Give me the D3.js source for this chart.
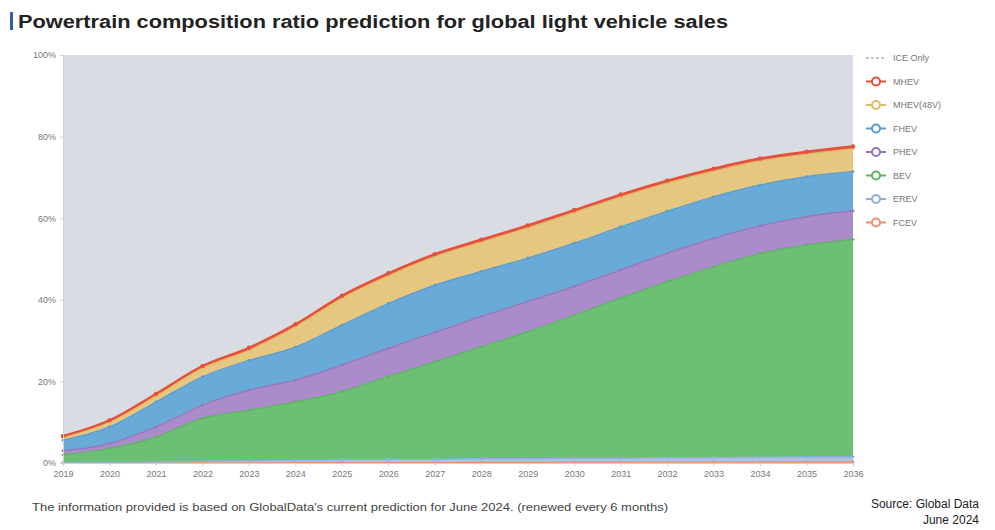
<!DOCTYPE html>
<html><head><meta charset="utf-8">
<script src="https://cdn.jsdelivr.net/npm/d3@7"></script>
<style>
html,body{margin:0;padding:0;background:#fff;}
svg{display:block;font-family:"Liberation Sans",Arial,sans-serif;}
</style></head>
<body>
<svg id="c" width="995" height="530"></svg>
<script>
const years = [2019,2020,2021,2022,2023,2024,2025,2026,2027,2028,2029,2030,2031,2032,2033,2034,2035,2036];
const fcev   = [0.05,0.05,0.05,0.05,0.05,0.1,0.1,0.1,0.1,0.15,0.15,0.2,0.2,0.2,0.25,0.25,0.3,0.3];
const erev   = [0.05,0.1,0.2,0.4,0.5,0.6,0.7,0.8,0.8,0.9,0.9,1.0,1.0,1.1,1.1,1.2,1.2,1.2];
const bev    = [1.9,3.4,6.1,10.5,12.4,14.3,16.7,20.3,23.9,27.4,31.1,35.0,39.2,43.1,46.7,49.9,51.9,53.3];
const phev   = [1.0,1.2,2.5,3.2,4.9,5.3,6.5,6.9,7.2,7.5,7.4,7.1,6.9,7.0,7.0,6.8,7.0,7.0];
const fhev   = [2.6,4.1,6.1,7.0,7.3,8.1,9.8,11.0,11.6,11.0,10.7,10.6,10.6,10.3,10.2,10.0,9.8,9.6];
const mhev48 = [0.7,1.2,1.5,2.1,2.5,5.0,6.6,6.8,7.0,7.2,7.4,7.5,7.3,6.9,6.3,5.9,5.5,5.6];
const mhev   = [0.3,0.4,0.5,0.5,0.6,0.6,0.6,0.6,0.6,0.6,0.6,0.6,0.6,0.6,0.6,0.6,0.6,0.6];
const yTicks = [0,20,40,60,80,100];
const seriesNames = ["FCEV","EREV","BEV","PHEV","FHEV","MHEV(48V)","MHEV","ICE Only"];
const legendOrder = ["ICE Only","MHEV","MHEV(48V)","FHEV","PHEV","BEV","EREV","FCEV"];
const colors = {"ICE Only":"#d9dde3","MHEV":"#e8604c","MHEV(48V)":"#e6c77f","FHEV":"#6aaad8","PHEV":"#a98cc9","BEV":"#6dbf73","EREV":"#a9c2e6","FCEV":"#f1a58a"};
const strokes = {"ICE Only":"#c9ced6","MHEV":"#e4503c","MHEV(48V)":"#e0ba66","FHEV":"#5a9bcf","PHEV":"#9676ba","BEV":"#5cb463","EREV":"#8fb0de","FCEV":"#ee8f70"};

const iceOnly = years.map((y,i)=> +(100 - fcev[i]-erev[i]-bev[i]-phev[i]-fhev[i]-mhev48[i]-mhev[i]).toFixed(2));
const arrays = {"FCEV":fcev,"EREV":erev,"BEV":bev,"PHEV":phev,"FHEV":fhev,"MHEV(48V)":mhev48,"MHEV":mhev,"ICE Only":iceOnly};
const table = years.map((y,i)=>{const o={year:y}; seriesNames.forEach(n=>o[n]=arrays[n][i]); return o;});

const svg = d3.select("#c");
const m = {l:63, r:853, t:55, b:463};
const x = d3.scaleLinear().domain([years[0], years[years.length-1]]).range([m.l, m.r]);
const y = d3.scaleLinear().domain([0,100]).range([m.b, m.t]);

const stack = d3.stack().keys(seriesNames);
const layers = stack(table);

const area = d3.area().x(d=>x(d.data.year)).y0(d=>y(d[0])).y1(d=>y(d[1])).curve(d3.curveMonotoneX);
const line = d3.line().x(d=>x(d.data.year)).y(d=>y(d[1])).curve(d3.curveMonotoneX);

svg.append("g").selectAll("path").data(layers).join("path")
  .attr("d", area).attr("fill", d=>colors[d.key]);

svg.append("g").selectAll("path").data(layers.filter(l=>l.key!=="ICE Only")).join("path")
  .attr("d", line).attr("fill","none").attr("stroke", d=>strokes[d.key])
  .attr("stroke-width", d=>d.key==="MHEV"?2.2:1.2);

layers.filter(l=>l.key!=="ICE Only").forEach(l=>{
  svg.append("g").selectAll("circle").data(l).join("circle")
    .attr("cx", d=>x(d.data.year)).attr("cy", d=>y(d[1]))
    .attr("r", l.key==="MHEV"?2.2:1.4).attr("fill", strokes[l.key]);
});

// axes
const yAxis = svg.append("g").attr("transform",`translate(${m.l},0)`)
  .call(d3.axisLeft(y).tickValues(yTicks).tickFormat(d=>d+"%").tickSize(3));
yAxis.select(".domain").attr("stroke","#d0d0d0");
yAxis.selectAll(".tick line").attr("stroke","#d0d0d0");
yAxis.selectAll("text").attr("fill","#777").attr("font-size",9).attr("x",-7);

const xAxis = svg.append("g").attr("transform",`translate(0,${m.b})`)
  .call(d3.axisBottom(x).tickValues(years).tickFormat(d3.format("d")).tickSize(3));
xAxis.select(".domain").attr("stroke","#d0d0d0");
xAxis.selectAll(".tick line").attr("stroke","#d0d0d0");
xAxis.selectAll("text").attr("fill","#777").attr("font-size",9).attr("dy","0.9em");

// legend
const lg = svg.append("g").attr("transform","translate(866,58)");
legendOrder.forEach((n,i)=>{
  const g = lg.append("g").attr("transform",`translate(0,${i*23.5})`);
  const c = n==="ICE Only" ? "#c3c8d0" : strokes[n];
  g.append("line").attr("x1",0).attr("x2",20).attr("y1",0).attr("y2",0).attr("stroke",c).attr("stroke-width",2)
    .attr("stroke-dasharray", n==="ICE Only"?"3,2":null);
  if(n!=="ICE Only") g.append("circle").attr("cx",10).attr("cy",0).attr("r",4).attr("fill","#fff").attr("stroke",c).attr("stroke-width",2);
  g.append("text").attr("x",27).attr("y",3).attr("font-size",9).attr("fill","#777").text(n);
});

// title
svg.append("rect").attr("x",10).attr("y",12).attr("width",3).attr("height",18).attr("fill","#2f5fa8");
svg.append("text").attr("x",18).attr("y",28).attr("font-size",18).attr("font-weight","bold").attr("fill","#222")
  .attr("textLength",710).attr("lengthAdjust","spacingAndGlyphs")
  .text("Powertrain composition ratio prediction for global light vehicle sales");

// footer
svg.append("text").attr("x",32).attr("y",511).attr("font-size",11).attr("fill","#444")
  .attr("textLength",636).attr("lengthAdjust","spacingAndGlyphs")
  .text("The information provided is based on GlobalData's current prediction for June 2024. (renewed every 6 months)");
svg.append("text").attr("x",979).attr("y",508).attr("font-size",12).attr("fill","#222").attr("text-anchor","end")
  .text("Source: Global Data");
svg.append("text").attr("x",979).attr("y",524).attr("font-size",12).attr("fill","#222").attr("text-anchor","end")
  .text("June 2024");
</script>
</body></html>
